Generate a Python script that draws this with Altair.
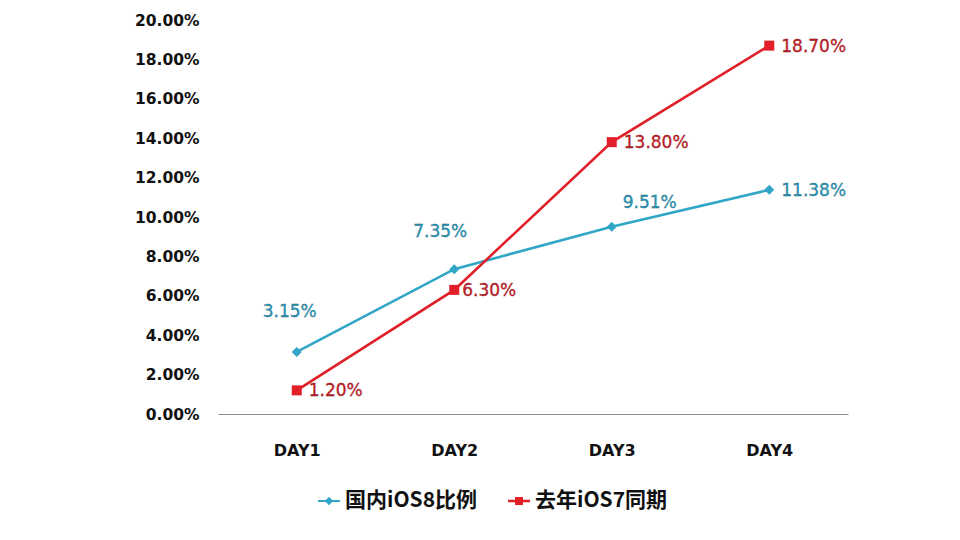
import altair as alt
import pandas as pd

days = ["DAY1", "DAY2", "DAY3", "DAY4"]
series_names = ["国内iOS8比例", "去年iOS7同期"]
ios8_values = [0.0315, 0.0735, 0.0951, 0.1138]
ios7_values = [0.0120, 0.0630, 0.1380, 0.1870]
y_ticks = [0.0, 0.02, 0.04, 0.06, 0.08, 0.10, 0.12, 0.14, 0.16, 0.18, 0.20]

line_colors = ["#31a6c6", "#e01f29"]
text_fill = {"国内iOS8比例": "#2b9cc0", "去年iOS7同期": "#d11e28"}
text_stroke = {"国内iOS8比例": "#1c5a6e", "去年iOS7同期": "#6a0d12"}

rows = []
for name, vals in zip(series_names, [ios8_values, ios7_values]):
    for d, v in zip(days, vals):
        rows.append({"day": d, "series": name, "value": v})
df = pd.DataFrame(rows)

x_enc = alt.X("day:N", sort=days, scale=alt.Scale(type="point", padding=0.5),
              axis=alt.Axis(title=None, labelAngle=0, ticks=False, domainColor="#8c8c8c",
                            domainWidth=1, labelFont="DejaVu Sans", labelFontWeight="bold",
                            labelFontSize=16, labelColor="#111111", labelPadding=28, grid=False))
y_enc = alt.Y("value:Q", scale=alt.Scale(domain=[0, 0.2], nice=False),
              axis=alt.Axis(title=None, values=y_ticks, format=".2%", domain=False, ticks=False,
                            grid=False, labelFont="DejaVu Sans", labelFontWeight="bold",
                            labelFontSize=15.5, labelColor="#111111", labelPadding=19))

color_scale = alt.Scale(domain=series_names, range=line_colors)
legend_paths = [
    "M-1,-0.09H1V0.09H-1Z M-0.38,0L0,-0.38L0.38,0L0,0.38Z",
    "M-1,-0.12H1V0.12H-1Z M-0.36,-0.36H0.36V0.36H-0.36Z",
]
shape_scale = alt.Scale(domain=series_names, range=legend_paths)

legend_props = dict(title=None, orient="none", direction="horizontal",
                    legendX=100, legendY=470, symbolSize=484,
                    symbolOpacity=1, symbolStrokeWidth=0,
                    labelFont="Noto Sans CJK SC", labelFontWeight="bold",
                    labelFontSize=21, labelColor="#111111",
                    labelOffset=5, columnPadding=30)

color_enc = alt.Color("series:N", scale=color_scale, legend=alt.Legend(**legend_props))

base = alt.Chart(df)

lines = base.mark_line(strokeWidth=2.6).encode(
    x=x_enc, y=y_enc, color=color_enc, detail="series:N",
)

pts_blue = base.transform_filter(alt.datum.series == series_names[0]).mark_point(
    shape="diamond", filled=True, size=100, opacity=1).encode(
    x=x_enc, y=y_enc, color=color_enc)
pts_red = base.transform_filter(alt.datum.series == series_names[1]).mark_point(
    shape="square", filled=True, size=100, opacity=1).encode(
    x=x_enc, y=y_enc, color=color_enc)

legend_layer = base.transform_filter("false").mark_point(filled=True).encode(
    x=x_enc, y=y_enc,
    color=color_enc,
    shape=alt.Shape("series:N", scale=shape_scale, legend=alt.Legend(**legend_props)),
)

# label placement per point: (align, dx, dy)
label_offsets = {
    (series_names[0], "DAY1"): ("center", -7, -40),
    (series_names[0], "DAY2"): ("center", -14, -37),
    (series_names[0], "DAY3"): ("center", 38, -24),
    (series_names[0], "DAY4"): ("left", 12, 1),
    (series_names[1], "DAY1"): ("left", 12, 1),
    (series_names[1], "DAY2"): ("left", 8, 1),
    (series_names[1], "DAY3"): ("left", 12, 1),
    (series_names[1], "DAY4"): ("left", 12, 1),
}

label_layers = []
for (s, d), (al, dx, dy) in label_offsets.items():
    label_layers.append(
        base.transform_filter((alt.datum.series == s) & (alt.datum.day == d)).mark_text(
            align=al, baseline="middle", dx=dx, dy=dy, font="DejaVu Sans", fontSize=17,
            fill=text_fill[s], stroke=text_stroke[s], strokeWidth=0.3,
        ).encode(x=x_enc, y=y_enc, text=alt.Text("value:Q", format=".2%"))
    )

chart = alt.layer(legend_layer, lines, pts_blue, pts_red, *label_layers).properties(
    width=630, height=394,
    background="white",
    autosize=alt.AutoSizeParams(type="none"),
    padding={"left": 210, "top": 12, "right": 104, "bottom": 118},
).configure_view(stroke=None)

chart.save("out.html", embed_options={"renderer": "svg", "actions": False})
